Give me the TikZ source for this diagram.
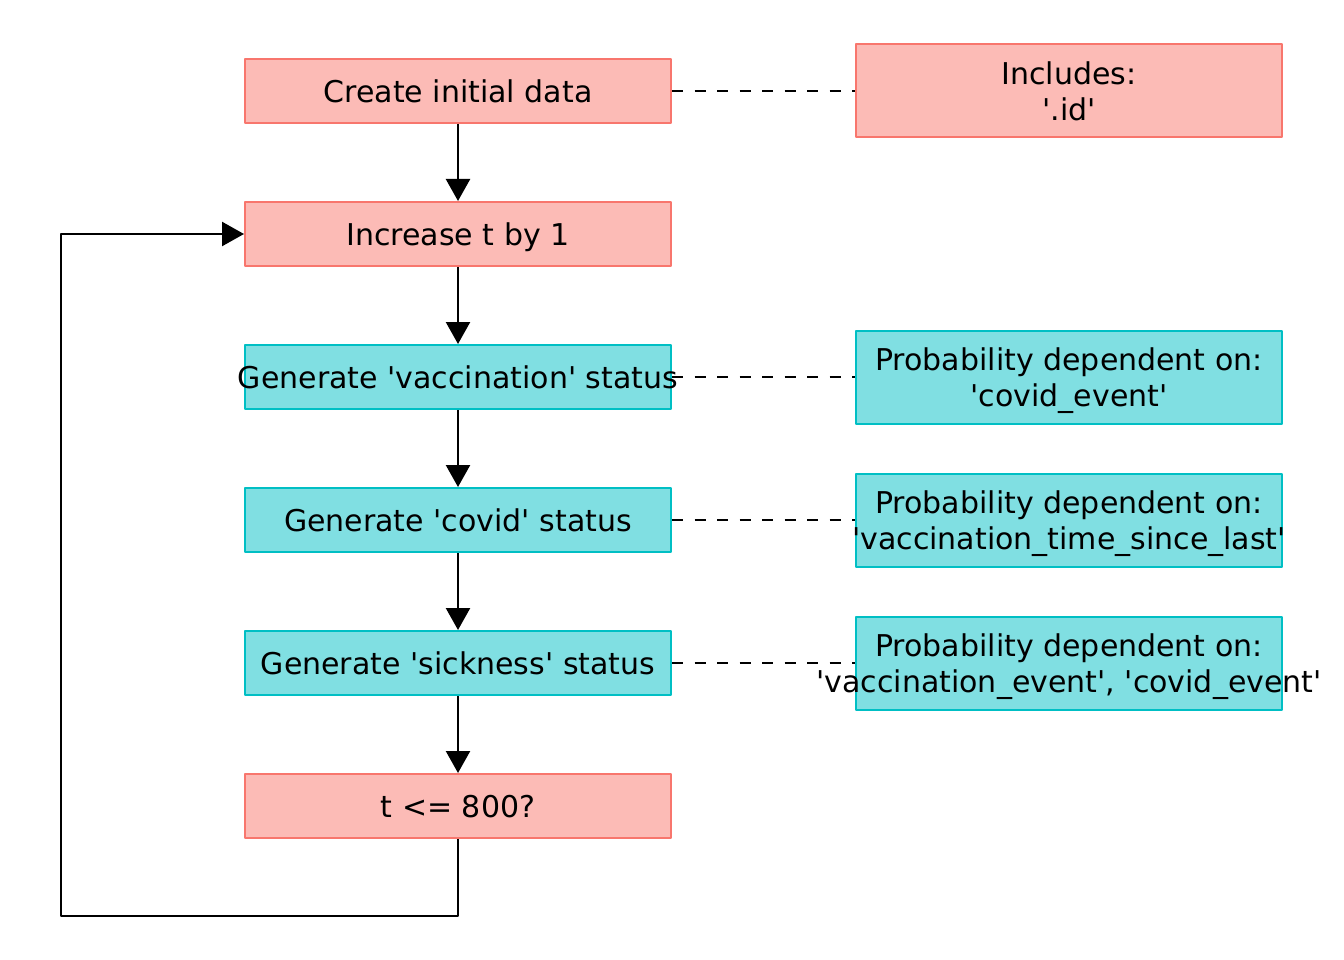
\documentclass[tikz,border=0pt]{standalone}
\usepackage{fontspec}
\usepackage{tikz}
\usetikzlibrary{arrows.meta,positioning}
\newfontfamily\dejavu{DejaVu Sans}
\definecolor{redline}{HTML}{F8766D}
\definecolor{redfill}{HTML}{FCBBB6}
\definecolor{cyanline}{HTML}{00BFC4}
\definecolor{cyanfill}{HTML}{80DFE2}
\newcommand{\ctr}[1]{\makebox[0pt]{#1}}

\begin{document}
\begin{tikzpicture}[->,>={Triangle[length=22pt,width=24pt]},line width=2.4pt,line join=round,
  node distance=143pt,font=\dejavu\fontsize{30}{36}\selectfont]
  \tikzstyle{stepred}=[rectangle,draw=redline,fill=redfill,line width=2pt,minimum width=426pt,
    minimum height=64pt,inner sep=0pt,text depth=0pt,align=center]
  \tikzstyle{stepcyan}=[stepred,draw=cyanline,fill=cyanfill]
  \tikzstyle{infored}=[stepred,minimum height=93pt]
  \tikzstyle{infocyan}=[stepcyan,minimum height=93pt]
  \tikzstyle{link}=[-,dash pattern=on 11pt off 11.5pt]

  \useasboundingbox (0,0) rectangle (1344pt,-960pt);

  \node[stepred]  (A) at (458pt,-91pt) {\ctr{Create initial data}};
  \node[stepred]  (B) [below of=A]     {\ctr{Increase t by 1}};
  \node[stepcyan] (C) [below of=B]     {\ctr{Generate 'vaccination' status}};
  \node[stepcyan] (D) [below of=C]     {\ctr{Generate 'covid' status}};
  \node[stepcyan] (E) [below of=D]     {\ctr{Generate 'sickness' status}};
  \node[stepred]  (F) [below of=E]     {\ctr{t <= 800?}};

  \node[infored]  (AI) [node distance=611pt,right of=A] {\ctr{Includes:}\\\ctr{'.id'}};
  \node[infocyan] (CI) [node distance=611pt,right of=C] {\ctr{Probability dependent on:}\\\ctr{'covid\_event'}};
  \node[infocyan] (DI) [node distance=611pt,right of=D] {\ctr{Probability dependent on:}\\\ctr{'vaccination\_time\_since\_last'}};
  \node[infocyan] (EI) [node distance=611pt,right of=E] {\ctr{Probability dependent on:}\\\ctr{'vaccination\_event', 'covid\_event'}};

  \coordinate (back) at ([xshift=-183pt]B.west);

  \path (A) edge (B)
        (B) edge (C)
        (C) edge (D)
        (D) edge (E)
        (E) edge (F);
  \draw (F.south) -- ++(0,-77pt) -| (back) -- (B.west);

  \draw[link] (A.east) -- (AI.west);
  \draw[link] (C.east) -- (CI.west);
  \draw[link] (D.east) -- (DI.west);
  \draw[link] (E.east) -- (EI.west);
\end{tikzpicture}
\end{document}
